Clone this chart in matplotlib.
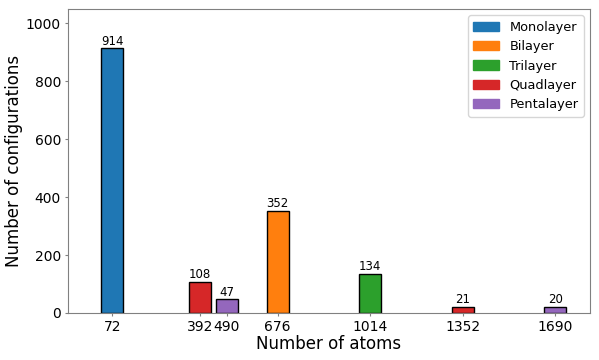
import matplotlib
matplotlib.use("Agg")
import matplotlib.pyplot as plt

# number of atoms for each configuration group
atoms = [72, 392, 490, 676, 1014, 1352, 1690]
counts = [914, 108, 47, 352, 134, 21, 20]
layers = ["Monolayer", "Quadlayer", "Pentalayer", "Bilayer", "Trilayer", "Quadlayer", "Pentalayer"]

legend_order = ["Monolayer", "Bilayer", "Trilayer", "Quadlayer", "Pentalayer"]
colors = {"Monolayer": "#1f77b4", "Bilayer": "#ff7f0e", "Trilayer": "#2ca02c",
          "Quadlayer": "#d62728", "Pentalayer": "#9467bd"}

fig = plt.figure(figsize=(5.99, 3.6), dpi=100)
ax = fig.add_axes([0.1135, 0.1306, 0.8715, 0.8444])

for x, c, l in zip(atoms, counts, layers):
    b = ax.bar(x, c, width=80, color=colors[l], edgecolor="black", linewidth=1)
    ax.text(x, c + 3, str(c), ha="center", va="bottom", fontsize=8.5)

handles = [plt.Rectangle((0, 0), 1, 1, color=colors[l]) for l in legend_order]
ax.legend(handles, legend_order, loc="upper right", fontsize=9.3)

ax.set_xticks(atoms)
ax.set_xticklabels([str(a) for a in atoms])
ax.tick_params(labelsize=10, length=2.5, pad=2.5, color="gray")
ax.set_xlim(-90, 1817)
ax.set_ylim(0, 1050)
ax.set_xlabel("Number of atoms", fontsize=12, labelpad=1)
ax.set_ylabel("Number of configurations", fontsize=12, labelpad=2)
for s in ax.spines.values():
    s.set_color("gray")

fig.savefig("out.png", dpi=100)
